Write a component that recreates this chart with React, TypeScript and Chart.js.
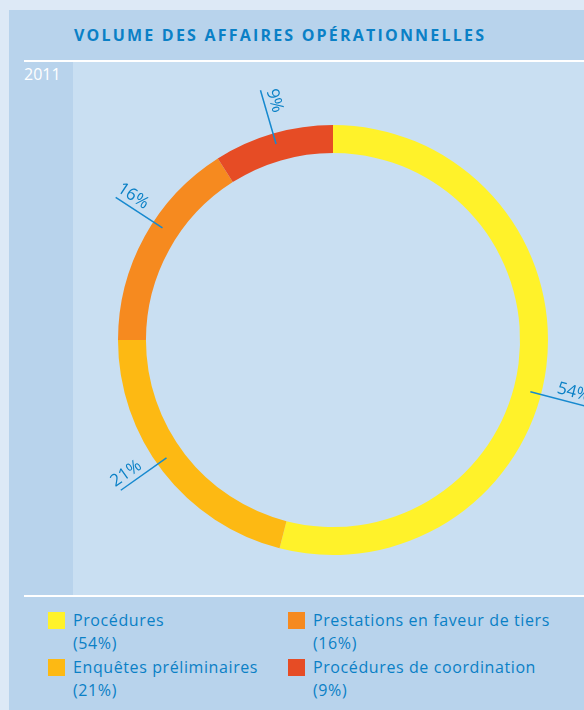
import React, { useEffect, useRef } from "react";
import { Chart, registerables } from "chart.js";

Chart.register(...registerables);

const categories = [
  "Procédures",
  "Enquêtes préliminaires",
  "Prestations en faveur de tiers",
  "Procédures de coordination",
];
const values = [54, 21, 16, 9];
const sliceLabels = ["54%", "21%", "16%", "9%"];
const legendLabels = ["(54%)", "(21%)", "(16%)", "(9%)"];
const colors = ["#fff22a", "#fdb913", "#f68a1f", "#e64c25"];
const labelAngleShift = [7.5, 2.5, 4.5, 0];
const title = "VOLUME DES AFFAIRES OPÉRATIONNELLES";
const year = "2011";

const BLUE = "#0a80c6";
const FONT = "'Open Sans', 'Noto Sans', sans-serif";

const labelPlugin = {
  id: "sliceLabels",
  afterDraw(chart: any) {
    const ctx = chart.ctx;
    const meta = chart.getDatasetMeta(0);
    meta.data.forEach((arc: any, i: number) => {
      const { x, y, startAngle, endAngle, innerRadius, outerRadius } = arc.getProps(
        ["x", "y", "startAngle", "endAngle", "innerRadius", "outerRadius"],
        true
      );
      const a = (startAngle + endAngle) / 2 + (labelAngleShift[i] * Math.PI) / 180;
      const r0 = (innerRadius + outerRadius) / 2 + 3;
      const r1 = outerRadius + 45;
      const cos = Math.cos(a);
      const sin = Math.sin(a);
      ctx.save();
      ctx.strokeStyle = "#1689cf";
      ctx.lineWidth = 1.5;
      ctx.beginPath();
      ctx.moveTo(x + r0 * cos, y + r0 * sin);
      ctx.lineTo(x + r1 * cos, y + r1 * sin);
      ctx.stroke();
      let rot = a;
      while (rot > Math.PI / 2) rot -= Math.PI;
      while (rot <= -Math.PI / 2) rot += Math.PI;
      const rt = outerRadius + 31;
      ctx.translate(x + rt * cos, y + rt * sin);
      ctx.rotate(rot);
      ctx.fillStyle = BLUE;
      ctx.font = `17px ${FONT}`;
      ctx.textAlign = "center";
      ctx.textBaseline = "bottom";
      ctx.fillText(sliceLabels[i], 0, -2);
      ctx.restore();
    });
  },
};

function DonutChart() {
  const ref = useRef<HTMLCanvasElement>(null);
  useEffect(() => {
    if (!ref.current) return;
    const chart = new Chart(ref.current, {
      type: "doughnut",
      data: {
        labels: categories,
        datasets: [
          {
            data: values,
            backgroundColor: colors,
            borderWidth: 0,
          },
        ],
      },
      options: {
        responsive: false,
        animation: false,
        cutout: "87%",
        layout: { padding: { left: 45, right: 36, top: 63, bottom: 40 } },
        plugins: {
          legend: { display: false },
          tooltip: { enabled: false },
        },
      },
      plugins: [labelPlugin],
    });
    return () => chart.destroy();
  }, []);
  return (
    <canvas
      ref={ref}
      width={511}
      height={533}
      style={{ position: "absolute", left: 73, top: 62, width: 511, height: 533 }}
    />
  );
}

export default function App() {
  const legendOrder = [0, 2, 1, 3];
  return (
    <div
      style={{
        position: "fixed",
        left: 0,
        top: 0,
        width: 584,
        height: 710,
        overflow: "hidden",
        background: "#dde9f6",
        fontFamily: FONT,
      }}
    >
      <div
        style={{
          position: "absolute",
          left: 9,
          top: 10,
          width: 600,
          height: 720,
          background: "#b8d3ec",
        }}
      />
      <div
        style={{
          position: "absolute",
          left: 73,
          top: 62,
          width: 511,
          height: 533,
          background: "#c9dff2",
        }}
      />
      <div style={{ position: "absolute", left: 24, top: 60, width: 560, height: 2, background: "#ffffff" }} />
      <div style={{ position: "absolute", left: 24, top: 595, width: 560, height: 2, background: "#ffffff" }} />
      <div
        style={{
          position: "absolute",
          left: 74,
          top: 24,
          fontSize: 16,
          lineHeight: "22px",
          fontWeight: 700,
          letterSpacing: 2.2,
          color: BLUE,
          whiteSpace: "nowrap",
        }}
      >
        {title}
      </div>
      <div
        style={{
          position: "absolute",
          left: 24,
          top: 63,
          fontSize: 16,
          color: "#ffffff",
        }}
      >
        {year}
      </div>
      <DonutChart />
      {legendOrder.map((idx, k) => {
        const col = k % 2;
        const row = Math.floor(k / 2);
        return (
          <div
            key={idx}
            style={{
              position: "absolute",
              left: 48 + col * 240,
              top: 609 + row * 47,
              whiteSpace: "nowrap",
            }}
          >
            <div
              style={{
                position: "absolute",
                left: 0,
                top: 3,
                width: 17,
                height: 17,
                background: colors[idx],
              }}
            />
            <div
              style={{
                position: "absolute",
                left: 25,
                top: 0,
                fontSize: 16,
                letterSpacing: 0.6,
                lineHeight: "23px",
                color: BLUE,
              }}
            >
              <div>{categories[idx]}</div>
              <div>{legendLabels[idx]}</div>
            </div>
          </div>
        );
      })}
    </div>
  );
}
